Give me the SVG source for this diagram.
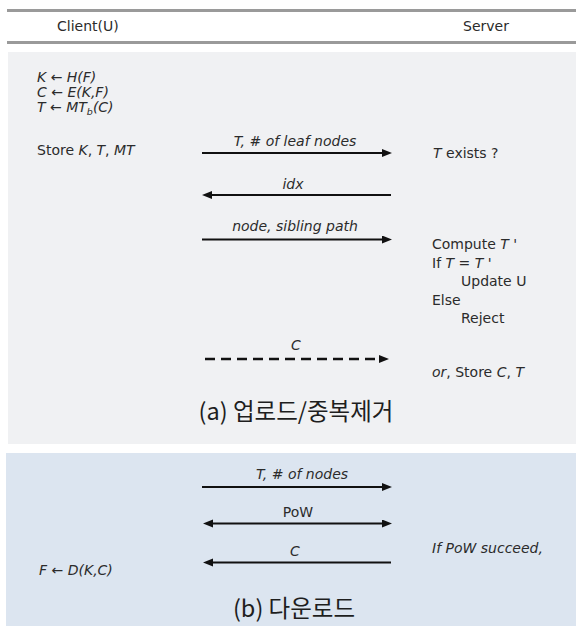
<svg xmlns="http://www.w3.org/2000/svg" width="576" height="626" viewBox="0 0 576 626">
  <style>
    .t { font-family: "DejaVu Sans", "Liberation Sans", sans-serif; font-size: 14px; fill: #2b2b2b; }
    .i { font-style: italic; }
    .sub { font-size: 9.5px; font-style: italic; }
    .title { font-family: "Noto Sans CJK KR", "Noto Sans", sans-serif; font-size: 23.5px; fill: #1e1e1e; }
    .rule { stroke: #9a9a9a; stroke-width: 3; }
    .msg { stroke: #111; stroke-width: 2.2; fill: none; }
    .dash { stroke-dasharray: 10 6; stroke-width: 2.4; }
  </style>
  <defs>
    <marker id="head" markerUnits="userSpaceOnUse" markerWidth="11" markerHeight="9" refX="4" refY="4" orient="auto-start-reverse">
      <path d="M0,0 L10,4 L0,8 Z" fill="#111"/>
    </marker>
  </defs>

  <rect width="576" height="626" fill="#ffffff"/>

  <!-- header rules and column titles -->
  <g id="header">
    <line class="rule" x1="7" y1="10.5" x2="576" y2="10.5"/>
    <line class="rule" x1="7" y1="42.5" x2="576" y2="42.5"/>
    <text class="t" x="57" y="31">Client(U)</text>
    <text class="t" x="463" y="31">Server</text>
  </g>

  <!-- (a) upload / deduplication panel -->
  <g id="panel-upload">
    <rect x="8" y="52" width="568" height="392" fill="#f0f1f3"/>
    <text class="title" x="296" y="420" text-anchor="middle">(a) 업로드/중복제거</text>
  </g>

  <!-- (b) download panel -->
  <g id="panel-download">
    <rect x="6" y="453" width="570" height="173" fill="#dce5f0"/>
    <text class="title" x="294" y="617" text-anchor="middle">(b) 다운로드</text>
  </g>

  <!-- client side, upload -->
  <g id="client-upload">
    <text class="t" x="37" y="82"><tspan class="i">K</tspan> ← <tspan class="i">H(F)</tspan></text>
    <text class="t" x="37" y="97"><tspan class="i">C</tspan> ← <tspan class="i">E(K,F)</tspan></text>
    <text class="t" x="37" y="111.5"><tspan class="i">T</tspan> ← <tspan class="i">MT</tspan><tspan class="sub" dy="3">b</tspan><tspan class="i" dy="-3">(C)</tspan></text>
    <text class="t" x="37" y="155">Store <tspan class="i">K</tspan>, <tspan class="i">T</tspan>, <tspan class="i">MT</tspan></text>
  </g>

  <!-- server side, upload -->
  <g id="server-upload">
    <text class="t" x="433" y="158"><tspan class="i">T</tspan> exists ?</text>
    <text class="t" x="432" y="249">Compute <tspan class="i">T</tspan> '</text>
    <text class="t" x="432" y="267.5">If <tspan class="i">T</tspan> = <tspan class="i">T</tspan> '</text>
    <text class="t" x="461" y="286">Update U</text>
    <text class="t" x="432" y="304.5">Else</text>
    <text class="t" x="461" y="323">Reject</text>
    <text class="t" x="432" y="377"><tspan class="i">or</tspan>, Store <tspan class="i">C</tspan>, <tspan class="i">T</tspan></text>
  </g>

  <!-- client and server side, download -->
  <g id="client-download">
    <text class="t" x="39" y="575"><tspan class="i">F</tspan> ← <tspan class="i">D(K,C)</tspan></text>
  </g>
  <g id="server-download">
    <text class="t i" x="432" y="553">If PoW succeed,</text>
  </g>

  <!-- messages -->
  <g id="connectors">
    <line class="msg" x1="202" y1="153" x2="386" y2="153" marker-end="url(#head)"/>
    <text class="t i" x="295" y="146" text-anchor="middle">T, # of leaf nodes</text>

    <line class="msg" x1="208" y1="195" x2="391" y2="195" marker-start="url(#head)"/>
    <text class="t i" x="293" y="189" text-anchor="middle">idx</text>

    <line class="msg" x1="202" y1="239.5" x2="386" y2="239.5" marker-end="url(#head)"/>
    <text class="t i" x="295" y="231" text-anchor="middle">node, sibling path</text>

    <line class="msg dash" x1="205" y1="359" x2="383" y2="359" marker-end="url(#head)"/>
    <text class="t i" x="296" y="350" text-anchor="middle">C</text>

    <line class="msg" x1="202" y1="487" x2="386" y2="487" marker-end="url(#head)"/>
    <text class="t i" x="302" y="479" text-anchor="middle">T, # of nodes</text>

    <line class="msg" x1="209" y1="523.5" x2="386" y2="523.5" marker-start="url(#head)" marker-end="url(#head)"/>
    <text class="t" x="298" y="517" text-anchor="middle">PoW</text>

    <line class="msg" x1="209" y1="562.5" x2="391" y2="562.5" marker-start="url(#head)"/>
    <text class="t i" x="295" y="556" text-anchor="middle">C</text>
  </g>
</svg>
